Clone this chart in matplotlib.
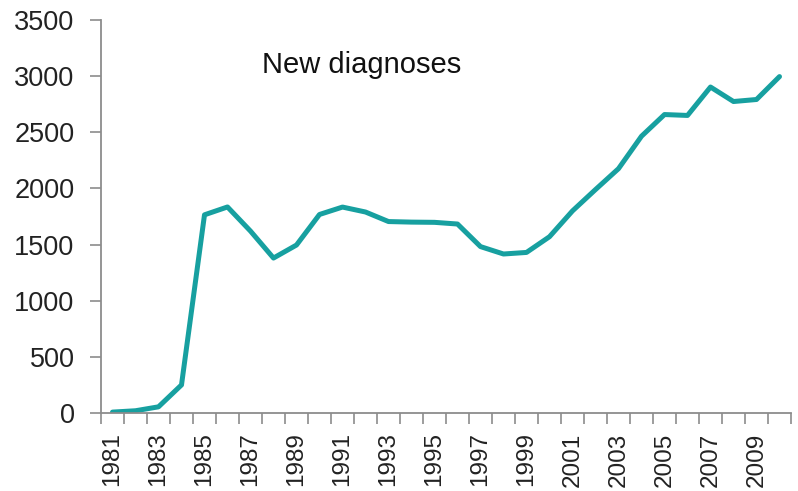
import numpy as np
import matplotlib
matplotlib.use("Agg")
import matplotlib.pyplot as plt
from matplotlib.ticker import FixedLocator, NullFormatter

plt.rcParams['font.family'] = ['Liberation Sans', 'DejaVu Sans']

years = list(range(1981, 2011))
new_diagnoses = [8, 20, 55, 250, 1765, 1835, 1620, 1380, 1496, 1768,
                 1834, 1790, 1705, 1700, 1698, 1683, 1482, 1416, 1430, 1570,
                 1800, 1990, 2176, 2465, 2658, 2650, 2903, 2774, 2792, 2996]
year_labels = [str(y) for y in years[::2]]

fig = plt.figure(figsize=(7.98, 4.91), dpi=100)
ax = fig.add_axes([101 / 798, 1 - 413 / 491, 690 / 798, 393 / 491])

x = np.arange(len(years))
ax.plot(x, new_diagnoses, color='#17a0a0', linewidth=3.6,
        solid_joinstyle='round', solid_capstyle='round')

ax.set_xlim(-0.5, len(years) - 0.5)
ax.set_ylim(0, 3500)
ax.set_yticks(np.arange(0, 3501, 500))

# category boundaries carry the tick marks, labels sit at category centres
ax.xaxis.set_major_locator(FixedLocator(np.arange(-0.5, len(years), 1.0)))
ax.xaxis.set_major_formatter(NullFormatter())
ax.xaxis.set_minor_locator(FixedLocator(x[::2]))
ax.set_xticklabels(year_labels, minor=True, rotation=90)

grey = '#8c8c8c'
for side in ('top', 'right'):
    ax.spines[side].set_visible(False)
for side in ('left', 'bottom'):
    ax.spines[side].set_color(grey)
    ax.spines[side].set_linewidth(1.3)

ax.tick_params(axis='y', which='major', length=8, width=1.2, color=grey,
               labelsize=19.5, pad=11, labelcolor='#222222')
ax.tick_params(axis='x', which='major', length=8, width=1.2, color=grey,
               direction='out')
ax.tick_params(axis='x', which='minor', length=0, labelsize=17.5, pad=14,
               labelcolor='#222222')

fig.text(262 / 798, 1 - 73 / 491, 'New diagnoses', fontsize=21,
         color='#111111', ha='left', va='baseline')

fig.savefig('out.png', dpi=100)
